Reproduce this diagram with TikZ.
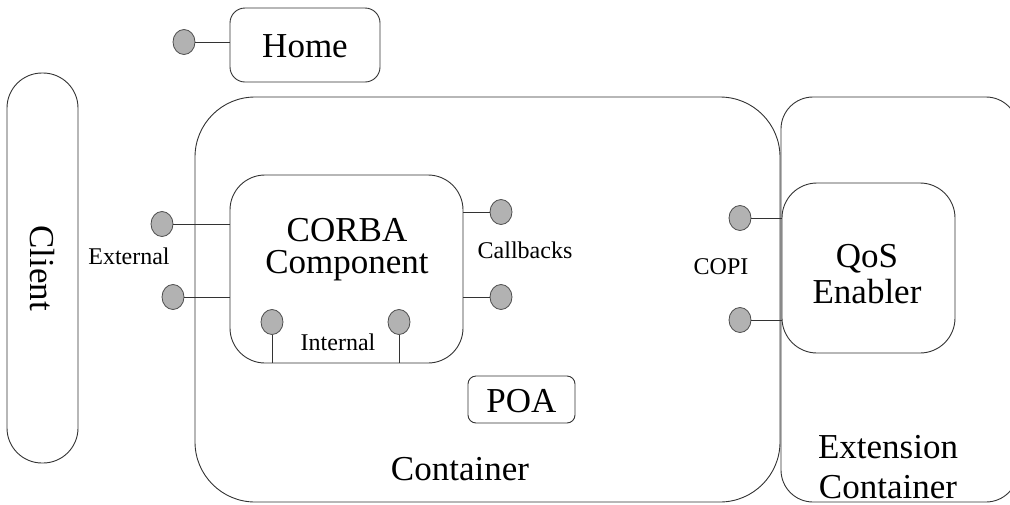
\documentclass[tikz,border=0pt]{standalone}
\usepackage{fontspec}
\setmainfont{Liberation Serif}
\usetikzlibrary{shapes.geometric}
\tikzset{
  box/.style={draw=black!80, line width=0.9pt, inner sep=0pt},
  port/.style={ellipse, draw=black!70, fill=black!30, line width=0.8pt, minimum width=22pt, minimum height=25pt, inner sep=0pt},
  wire/.style={draw=black!80, line width=0.9pt},
  big/.style={font=\fontsize{35}{38}\selectfont, inner sep=0pt},
  small/.style={font=\fontsize{24}{26}\selectfont, inner sep=0pt}
}
\begin{document}
\begin{tikzpicture}[x=1pt,y=-1pt]
\useasboundingbox (0,0) rectangle (1010,504);
\clip (0,0) rectangle (1010,504);
% containers
\node[box, rounded corners=60pt, minimum width=585pt, minimum height=405pt] (cont) at (487.5,299.5) {};
\node[box, rounded corners=32pt, minimum width=237pt, minimum height=405pt] (ext) at (899.5,299.5) {};
\node[box, rounded corners=35pt, minimum width=71pt, minimum height=390pt] (client) at (42.5,268) {};
\node[big, rotate=-90] (clientlbl) at (42,268) {Client};
% home
\node[box, rounded corners=15pt, minimum width=150pt, minimum height=74pt] (home) at (305,45) {};
\node[big, anchor=base] (homelbl) at (305,57) {Home};
\node[port] (hp) at (184,42) {};
\draw[wire] (hp.east) -- (hp.east -| home.west);
% CORBA component
\node[box, rounded corners=35pt, minimum width=233pt, minimum height=188pt] (corba) at (346.5,269) {};
\node[big, anchor=base] (corbalbl1) at (347,241) {CORBA};
\node[big, anchor=base] (corbalbl2) at (347,273) {Component};
% external ports
\node[port] (ex1) at (162,224) {};
\node[port] (ex2) at (173,297) {};
\draw[wire] (ex1.east) -- (ex1.east -| corba.west);
\draw[wire] (ex2.east) -- (ex2.east -| corba.west);
\node[small, anchor=base] (extlbl) at (129,264) {External};
% callbacks
\node[port] (cb1) at (501,212) {};
\node[port] (cb2) at (501,297) {};
\draw[wire] (cb1.west) -- (cb1.west -| corba.east);
\draw[wire] (cb2.west) -- (cb2.west -| corba.east);
\node[small, anchor=base] (cblbl) at (525,258) {Callbacks};
% internal
\node[port] (in1) at (272,322) {};
\node[port] (in2) at (399,322) {};
\draw[wire] (in1.south) -- (in1.south |- corba.south);
\draw[wire] (in2.south) -- (in2.south |- corba.south);
\node[small, anchor=base] (inlbl) at (338,350) {Internal};
% POA
\node[box, rounded corners=8pt, minimum width=107pt, minimum height=47pt] (poa) at (521.5,399.5) {};
\node[big, anchor=base] (poalbl) at (521.5,412) {POA};
\node[big, anchor=base] (contlbl) at (460,480) {Container};
% QoS
\node[box, rounded corners=35pt, minimum width=173pt, minimum height=170pt] (qos) at (868.5,268) {};
\node[big, anchor=base] (qoslbl1) at (867,267) {QoS};
\node[big, anchor=base] (qoslbl2) at (867,303) {Enabler};
\node[port] (cp1) at (740,218) {};
\node[port] (cp2) at (740,320) {};
\draw[wire] (cp1.east) -- (cp1.east -| qos.west);
\draw[wire] (cp2.east) -- (cp2.east -| qos.west);
\node[small, anchor=base] (copilbl) at (721,274) {COPI};
\node[big, anchor=base] (extlbl1) at (888,458) {Extension};
\node[big, anchor=base] (extlbl2) at (888,498) {Container};
\end{tikzpicture}
\end{document}
